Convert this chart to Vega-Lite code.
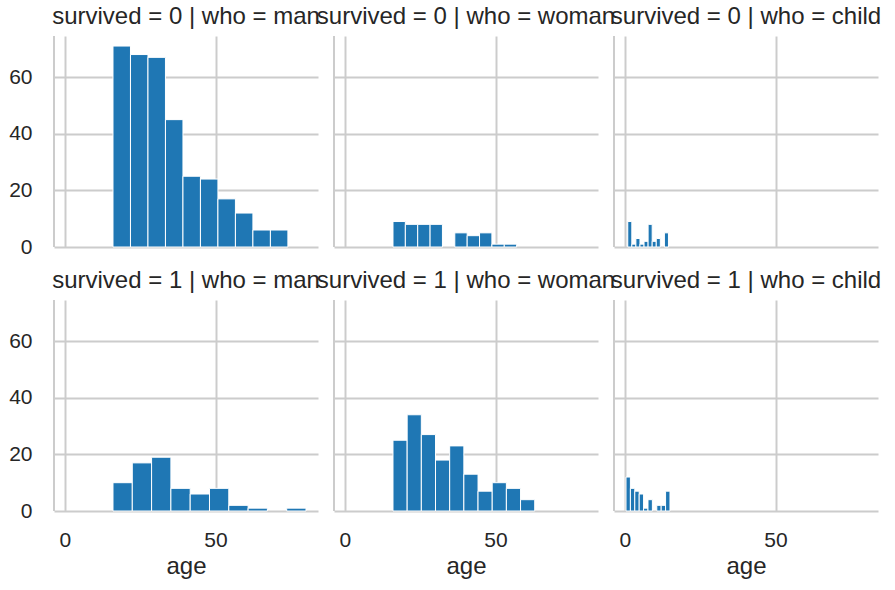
{
  "$schema": "https://vega.github.io/schema/vega-lite/v6.json",
  "background": "white",
  "padding": {"left": 8, "top": 5, "right": 5, "bottom": 5},
  "data": {"values": [
    {"s": 0, "w": "man", "i": 0, "a0": 16, "a1": 21.8, "c": 71},
    {"s": 0, "w": "man", "i": 1, "a0": 21.8, "a1": 27.6, "c": 68},
    {"s": 0, "w": "man", "i": 2, "a0": 27.6, "a1": 33.4, "c": 67},
    {"s": 0, "w": "man", "i": 3, "a0": 33.4, "a1": 39.2, "c": 45},
    {"s": 0, "w": "man", "i": 4, "a0": 39.2, "a1": 45, "c": 25},
    {"s": 0, "w": "man", "i": 5, "a0": 45, "a1": 50.8, "c": 24},
    {"s": 0, "w": "man", "i": 6, "a0": 50.8, "a1": 56.6, "c": 17},
    {"s": 0, "w": "man", "i": 7, "a0": 56.6, "a1": 62.4, "c": 12},
    {"s": 0, "w": "man", "i": 8, "a0": 62.4, "a1": 68.2, "c": 6},
    {"s": 0, "w": "man", "i": 9, "a0": 68.2, "a1": 74, "c": 6},
    {"s": 0, "w": "woman", "i": 0, "a0": 16, "a1": 20.1, "c": 9},
    {"s": 0, "w": "woman", "i": 1, "a0": 20.1, "a1": 24.2, "c": 8},
    {"s": 0, "w": "woman", "i": 2, "a0": 24.2, "a1": 28.3, "c": 8},
    {"s": 0, "w": "woman", "i": 3, "a0": 28.3, "a1": 32.4, "c": 8},
    {"s": 0, "w": "woman", "i": 5, "a0": 36.5, "a1": 40.6, "c": 5},
    {"s": 0, "w": "woman", "i": 6, "a0": 40.6, "a1": 44.7, "c": 4},
    {"s": 0, "w": "woman", "i": 7, "a0": 44.7, "a1": 48.8, "c": 5},
    {"s": 0, "w": "woman", "i": 8, "a0": 48.8, "a1": 52.9, "c": 1},
    {"s": 0, "w": "woman", "i": 9, "a0": 52.9, "a1": 57, "c": 1},
    {"s": 0, "w": "child", "i": 0, "a0": 1, "a1": 2.35, "c": 9},
    {"s": 0, "w": "child", "i": 1, "a0": 2.35, "a1": 3.7, "c": 1},
    {"s": 0, "w": "child", "i": 2, "a0": 3.7, "a1": 5.05, "c": 3},
    {"s": 0, "w": "child", "i": 3, "a0": 5.05, "a1": 6.4, "c": 1},
    {"s": 0, "w": "child", "i": 4, "a0": 6.4, "a1": 7.75, "c": 2},
    {"s": 0, "w": "child", "i": 5, "a0": 7.75, "a1": 9.1, "c": 8},
    {"s": 0, "w": "child", "i": 6, "a0": 9.1, "a1": 10.45, "c": 2},
    {"s": 0, "w": "child", "i": 7, "a0": 10.45, "a1": 11.8, "c": 3},
    {"s": 0, "w": "child", "i": 9, "a0": 13.15, "a1": 14.5, "c": 5},
    {"s": 1, "w": "man", "i": 0, "a0": 16, "a1": 22.4, "c": 10},
    {"s": 1, "w": "man", "i": 1, "a0": 22.4, "a1": 28.8, "c": 17},
    {"s": 1, "w": "man", "i": 2, "a0": 28.8, "a1": 35.2, "c": 19},
    {"s": 1, "w": "man", "i": 3, "a0": 35.2, "a1": 41.6, "c": 8},
    {"s": 1, "w": "man", "i": 4, "a0": 41.6, "a1": 48, "c": 6},
    {"s": 1, "w": "man", "i": 5, "a0": 48, "a1": 54.4, "c": 8},
    {"s": 1, "w": "man", "i": 6, "a0": 54.4, "a1": 60.8, "c": 2},
    {"s": 1, "w": "man", "i": 7, "a0": 60.8, "a1": 67.2, "c": 1},
    {"s": 1, "w": "man", "i": 9, "a0": 73.6, "a1": 80, "c": 1},
    {"s": 1, "w": "woman", "i": 0, "a0": 16, "a1": 20.7, "c": 25},
    {"s": 1, "w": "woman", "i": 1, "a0": 20.7, "a1": 25.4, "c": 34},
    {"s": 1, "w": "woman", "i": 2, "a0": 25.4, "a1": 30.1, "c": 27},
    {"s": 1, "w": "woman", "i": 3, "a0": 30.1, "a1": 34.8, "c": 18},
    {"s": 1, "w": "woman", "i": 4, "a0": 34.8, "a1": 39.5, "c": 23},
    {"s": 1, "w": "woman", "i": 5, "a0": 39.5, "a1": 44.2, "c": 13},
    {"s": 1, "w": "woman", "i": 6, "a0": 44.2, "a1": 48.9, "c": 7},
    {"s": 1, "w": "woman", "i": 7, "a0": 48.9, "a1": 53.6, "c": 10},
    {"s": 1, "w": "woman", "i": 8, "a0": 53.6, "a1": 58.3, "c": 8},
    {"s": 1, "w": "woman", "i": 9, "a0": 58.3, "a1": 63, "c": 4},
    {"s": 1, "w": "child", "i": 0, "a0": 0.42, "a1": 1.878, "c": 12},
    {"s": 1, "w": "child", "i": 1, "a0": 1.878, "a1": 3.336, "c": 8},
    {"s": 1, "w": "child", "i": 2, "a0": 3.336, "a1": 4.794, "c": 7},
    {"s": 1, "w": "child", "i": 3, "a0": 4.794, "a1": 6.252, "c": 6},
    {"s": 1, "w": "child", "i": 4, "a0": 6.252, "a1": 7.71, "c": 1},
    {"s": 1, "w": "child", "i": 5, "a0": 7.71, "a1": 9.168, "c": 4},
    {"s": 1, "w": "child", "i": 7, "a0": 10.626, "a1": 12.084, "c": 2},
    {"s": 1, "w": "child", "i": 8, "a0": 12.084, "a1": 13.542, "c": 2},
    {"s": 1, "w": "child", "i": 9, "a0": 13.542, "a1": 15, "c": 7}
  ]},
  "transform": [
    {"calculate": "'survived = ' + datum.s + ' | who = ' + datum.w", "as": "panel"}
  ],
  "facet": {
    "field": "panel",
    "type": "nominal",
    "sort": [
      "survived = 0 | who = man",
      "survived = 0 | who = woman",
      "survived = 0 | who = child",
      "survived = 1 | who = man",
      "survived = 1 | who = woman",
      "survived = 1 | who = child"
    ],
    "header": {
      "title": null,
      "labelFontSize": 24,
      "labelColor": "#262626",
      "labelPadding": 6,
      "labelLimit": 0
    }
  },
  "columns": 3,
  "bounds": "flush",
  "spacing": {"column": 16, "row": 53},
  "spec": {
    "width": 264,
    "height": 211,
    "layer": [
      {
        "transform": [{"filter": "datum.i == 0"}],
        "mark": {"type": "rule", "color": "#cccccc", "strokeWidth": 2},
        "encoding": {"x": {"datum": -3.56, "type": "quantitative"}}
      },
      {
        "mark": {"type": "rect", "color": "#1f77b4", "stroke": "white", "strokeWidth": 1, "opacity": 1},
        "encoding": {
          "x": {
            "field": "a0",
            "type": "quantitative",
            "title": "age",
            "scale": {"domain": [-3.56, 83.98], "nice": false, "zero": false},
            "axis": {"values": [0, 50], "grid": true, "domain": false, "ticks": false, "labelPadding": 18, "titlePadding": 4}
          },
          "x2": {"field": "a1"},
          "y": {
            "field": "c",
            "type": "quantitative",
            "title": null,
            "scale": {"domain": [0, 74.55], "nice": false},
            "axis": {"values": [0, 20, 40, 60], "grid": true, "domain": false, "ticks": false, "labelPadding": 22}
          },
          "y2": {"datum": 0}
        }
      }
    ]
  },
  "config": {
    "font": "Liberation Sans",
    "view": {"stroke": null},
    "axis": {
      "gridColor": "#cccccc",
      "gridWidth": 2,
      "gridOpacity": 1,
      "labelFontSize": 21,
      "labelColor": "#262626",
      "titleFontSize": 24,
      "titleFontWeight": "normal",
      "titleColor": "#262626",
      "labelFont": "Liberation Sans",
      "titleFont": "Liberation Sans"
    },
    "header": {"labelFont": "Liberation Sans"}
  }
}
